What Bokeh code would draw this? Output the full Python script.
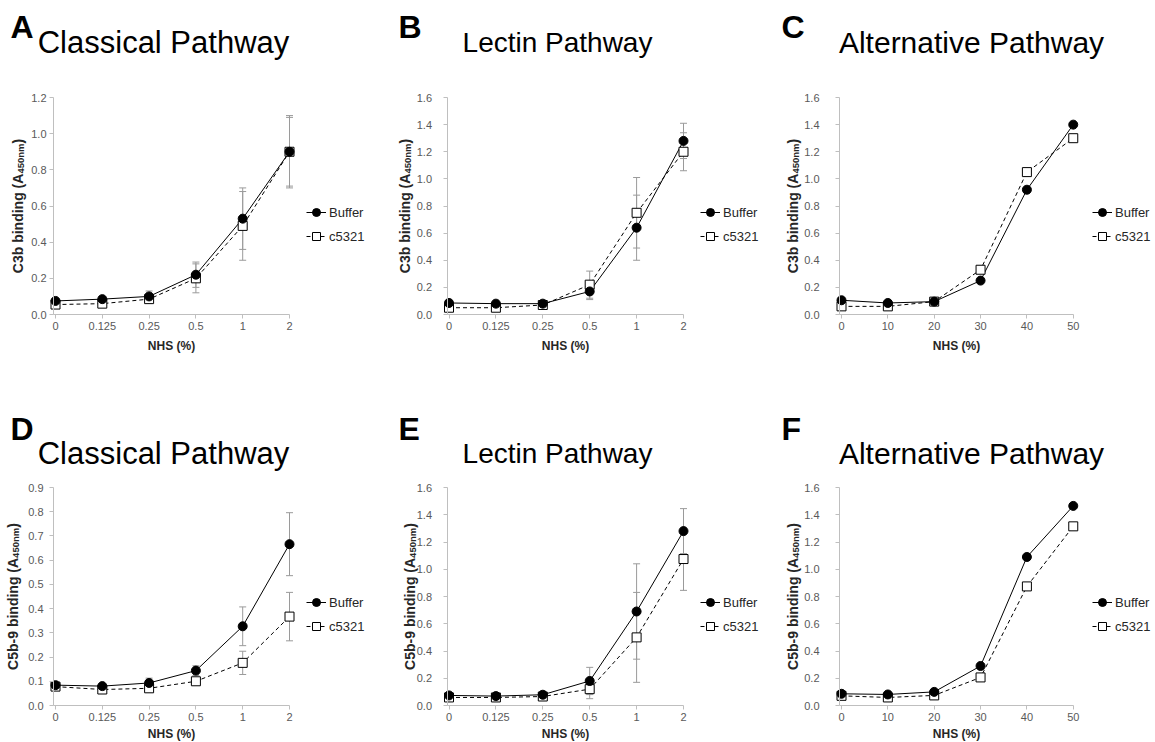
import math
from bokeh.plotting import figure
from bokeh.models import (Label, Legend, LegendItem, FixedTicker, Range1d,
                          PrintfTickFormatter)
from bokeh.layouts import column, row
from bokeh.embed import file_html
from bokeh.resources import INLINE

# NHS concentrations (% serum)
nhs_cp_lp = ["0", "0.125", "0.25", "0.5", "1", "2"]
nhs_ap = [0, 10, 20, 30, 40, 50]

# C3b deposition, classical pathway
c3b_cp_buffer = [0.075, 0.085, 0.10, 0.22, 0.53, 0.90]
c3b_cp_buffer_sd = [0.01, 0.01, 0.03, 0.07, 0.17, 0.20]
c3b_cp_c5321 = [0.055, 0.06, 0.085, 0.20, 0.49, 0.90]
c3b_cp_c5321_sd = [0.01, 0.01, 0.02, 0.08, 0.19, 0.19]

# C3b deposition, lectin pathway
c3b_lp_buffer = [0.085, 0.08, 0.08, 0.17, 0.64, 1.28]
c3b_lp_buffer_sd = [0.01, 0.01, 0.01, 0.06, 0.24, 0.13]
c3b_lp_c5321 = [0.05, 0.05, 0.07, 0.22, 0.75, 1.20]
c3b_lp_c5321_sd = [0.01, 0.01, 0.01, 0.10, 0.26, 0.14]

# C3b deposition, alternative pathway
c3b_ap_buffer = [0.105, 0.085, 0.095, 0.25, 0.92, 1.40]
c3b_ap_c5321 = [0.06, 0.06, 0.095, 0.33, 1.05, 1.30]

# C5b-9 deposition, classical pathway
c5b9_cp_buffer = [0.084, 0.080, 0.093, 0.144, 0.327, 0.666]
c5b9_cp_buffer_sd = [0.01, 0.01, 0.02, 0.02, 0.08, 0.13]
c5b9_cp_c5321 = [0.078, 0.066, 0.071, 0.10, 0.176, 0.367]
c5b9_cp_c5321_sd = [0.01, 0.01, 0.01, 0.01, 0.048, 0.10]

# C5b-9 deposition, lectin pathway
c5b9_lp_buffer = [0.074, 0.069, 0.079, 0.18, 0.69, 1.28]
c5b9_lp_buffer_sd = [0.01, 0.01, 0.01, 0.10, 0.35, 0.165]
c5b9_lp_c5321 = [0.059, 0.059, 0.066, 0.12, 0.50, 1.075]
c5b9_lp_c5321_sd = [0.01, 0.01, 0.01, 0.07, 0.33, 0.23]

# C5b-9 deposition, alternative pathway
c5b9_ap_buffer = [0.086, 0.081, 0.10, 0.29, 1.09, 1.465]
c5b9_ap_c5321 = [0.071, 0.059, 0.074, 0.206, 0.874, 1.315]

FONT = "Liberation Sans"
AXIS_GREY = "#bfbfbf"
TICK_TEXT = "#595959"
ERR_GREY = "#9a9a9a"
W, H = 385, 371

# Arial/Liberation Sans Bold advance widths (per 1000 em) for label layout
BOLD_W = {"C": 722, "3": 556, "5": 556, "b": 611, " ": 278, "i": 278,
          "n": 611, "d": 611, "g": 611, "(": 333, ")": 333, "A": 722,
          "-": 333, "9": 556, "4": 556, "0": 556, "m": 889}


def text_width(s, size):
    return sum(BOLD_W[c] for c in s) * size / 1000.0


# per-column pixel geometry inside each 385 px wide panel
COL_X0 = [55, 63.5, 71]          # pixel of the first x value
COL_DX = [46.8, 46.9, 46.35]     # pixels between neighbouring x values
COL_LEG_X = [306, 315, 322]      # start of the legend glyphs
COL_TITLE_CX = [163, 172, 201]   # title centre
COL_LETTER_X = [10, 13, 11]
# per-row pixel geometry inside each 371 px tall panel
ROW_Y0 = [314, 334]              # pixel of y = 0
ROW_YTOP = [97, 116]             # pixel of the top tick
ROW_TITLE_MID = [42, 82]
ROW_LETTER_MID = [26, 57]
ROW_LEG_Y = [212, 231]           # centre of first legend row
ROW_XLABEL_STANDOFF = [6, 3]


def make_panel(letter, title, title_size, ylabel_main, x_labels, x_vals, buf,
               c53, buf_sd, c53_sd, ymax, ystep, col, rw, ytick_standoff,
               ylab_x):
    step = 1 if x_vals is None else (x_vals[1] - x_vals[0])
    xs = x_vals if x_vals is not None else list(range(len(x_labels)))
    ppx = COL_DX[col] / step
    x_start = xs[0] - COL_X0[col] / ppx
    x_end = x_start + W / ppx
    ppy = (ROW_Y0[rw] - ROW_YTOP[rw]) / ymax
    y_start = -(H - ROW_Y0[rw]) / ppy
    y_end = y_start + H / ppy

    p = figure(width=W, height=H, output_backend="svg", toolbar_location=None,
               title=None, x_range=Range1d(x_start, x_end),
               y_range=Range1d(y_start, y_end), min_border=0,
               outline_line_color=None, background_fill_color="white",
               border_fill_color="white")
    p.xgrid.visible = False
    p.ygrid.visible = False

    y_axis_x = xs[0] - 2 / ppx
    for ax in (p.xaxis, p.yaxis):
        ax.axis_line_color = AXIS_GREY
        ax.major_tick_line_color = AXIS_GREY
        ax.minor_tick_line_color = None
        ax.major_tick_in = 0
        ax.major_tick_out = 4
        ax.major_label_text_font = FONT
        ax.major_label_text_font_size = "11px"
        ax.major_label_text_color = TICK_TEXT
    p.xaxis.fixed_location = 0
    p.xaxis.ticker = FixedTicker(ticks=xs)
    if x_vals is None:
        p.xaxis.major_label_overrides = {i: lab for i, lab in enumerate(x_labels)}
    p.xaxis.bounds = (y_axis_x, xs[-1])
    p.xaxis.major_label_standoff = 3
    p.xaxis.axis_label = "NHS (%)"
    p.xaxis.axis_label_text_font = FONT
    p.xaxis.axis_label_text_font_style = "bold"
    p.xaxis.axis_label_text_font_size = "12px"
    p.xaxis.axis_label_text_color = "#262626"
    p.xaxis.axis_label_standoff = ROW_XLABEL_STANDOFF[rw]

    nt = int(round(ymax / ystep))
    p.yaxis.fixed_location = y_axis_x
    p.yaxis.ticker = FixedTicker(ticks=[round(i * ystep, 2) for i in range(nt + 1)])
    p.yaxis.formatter = PrintfTickFormatter(format="%.1f")
    p.yaxis.bounds = (0, ymax)
    p.yaxis.major_label_standoff = ytick_standoff

    # error bars
    for vals, sd in ((buf, buf_sd), (c53, c53_sd)):
        if sd is None:
            continue
        lo = [v - s for v, s in zip(vals, sd)]
        hi = [v + s for v, s in zip(vals, sd)]
        p.segment(x0=xs, y0=lo, x1=xs, y1=hi, line_color=ERR_GREY, line_width=1)
        p.scatter(xs, lo, marker="dash", size=7, line_color=ERR_GREY, line_width=1)
        p.scatter(xs, hi, marker="dash", size=7, line_color=ERR_GREY, line_width=1)

    # series
    l2 = p.line(xs, c53, line_color="black", line_width=1, line_dash="4 3")
    l1 = p.line(xs, buf, line_color="black", line_width=1)
    m2 = p.scatter(xs, c53, marker="square", size=9, fill_color="white",
                   line_color="black", line_width=1)
    m1 = p.scatter(xs, buf, marker="circle", size=9, fill_color="black",
                   line_color="black")

    leg_top = ROW_LEG_Y[rw] - 10
    legend = Legend(items=[LegendItem(label="Buffer", renderers=[l1, m1]),
                           LegendItem(label="c5321", renderers=[l2, m2])],
                    location=(COL_LEG_X[col], H - (leg_top + 44)),
                    glyph_width=20, glyph_height=20, label_height=20,
                    label_standoff=3, spacing=4, padding=0, margin=0,
                    border_line_color=None, background_fill_alpha=0,
                    label_text_font=FONT, label_text_font_size="13px",
                    label_text_color="#262626")
    p.add_layout(legend)

    def put(text, px, py, **kw):
        # px, py: pixels from the panel's top-left corner
        p.add_layout(Label(x=x_start, y=y_start, x_offset=px, y_offset=H - py,
                           text=text, text_font=FONT, **kw))

    put(letter, COL_LETTER_X[col], ROW_LETTER_MID[rw], text_font_size="32px",
        text_font_style="bold", text_color="black", text_baseline="middle")
    put(title, COL_TITLE_CX[col], ROW_TITLE_MID[rw],
        text_font_size=f"{title_size}px", text_color="black",
        text_align="center", text_baseline="middle")

    # rotated y-axis title with subscript
    main_w = text_width(ylabel_main, 14)
    sub_w = text_width("450nm", 9.5)
    close_w = text_width(")", 14)
    mid = (ROW_Y0[rw] + ROW_YTOP[rw]) / 2
    start = mid + (main_w + sub_w + close_w) / 2
    common = dict(angle=math.pi / 2, text_font_style="bold",
                  text_color="#262626", text_align="left",
                  text_baseline="middle")
    put(ylabel_main, ylab_x, start, text_font_size="14px", **common)
    put("450nm", ylab_x + 3, start - main_w, text_font_size="9.5px", **common)
    put(")", ylab_x, start - main_w - sub_w, text_font_size="14px", **common)
    return p


pA = make_panel("A", "Classical Pathway", 31, "C3b binding (A", nhs_cp_lp, None,
                c3b_cp_buffer, c3b_cp_c5321, c3b_cp_buffer_sd, c3b_cp_c5321_sd,
                1.2, 0.2, 0, 0, 3, 17)
pB = make_panel("B", "Lectin Pathway", 28, "C3b binding (A", nhs_cp_lp, None,
                c3b_lp_buffer, c3b_lp_c5321, c3b_lp_buffer_sd, c3b_lp_c5321_sd,
                1.6, 0.2, 1, 0, 11, 19)
pC = make_panel("C", "Alternative Pathway", 30, "C3b binding (A", None, nhs_ap,
                c3b_ap_buffer, c3b_ap_c5321, None, None,
                1.6, 0.2, 2, 0, 16, 22)
pD = make_panel("D", "Classical Pathway", 31, "C5b-9 binding (A", nhs_cp_lp, None,
                c5b9_cp_buffer, c5b9_cp_c5321, c5b9_cp_buffer_sd, c5b9_cp_c5321_sd,
                0.9, 0.1, 0, 1, 6, 12)
pE = make_panel("E", "Lectin Pathway", 28, "C5b-9 binding (A", nhs_cp_lp, None,
                c5b9_lp_buffer, c5b9_lp_c5321, c5b9_lp_buffer_sd, c5b9_lp_c5321_sd,
                1.6, 0.2, 1, 1, 11, 24)
pF = make_panel("F", "Alternative Pathway", 30, "C5b-9 binding (A", None, nhs_ap,
                c5b9_ap_buffer, c5b9_ap_c5321, None, None,
                1.6, 0.2, 2, 1, 16, 22)

layout = column(row(pA, pB, pC), row(pD, pE, pF))
open("out.html", "w").write(file_html(layout, INLINE))
